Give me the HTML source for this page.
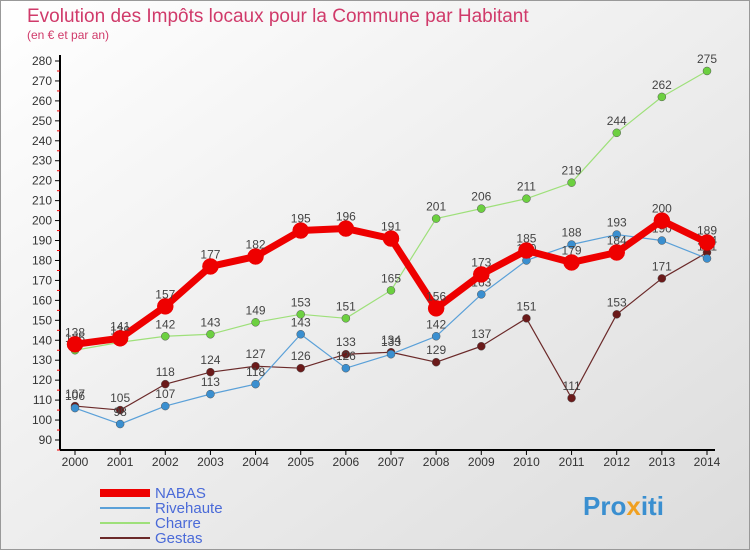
<!DOCTYPE html>
<html><head><meta charset="utf-8"><style>
body{margin:0;width:750px;height:550px;overflow:hidden;font-family:"Liberation Sans",sans-serif}
</style></head><body>
<svg id="c" width="750" height="550" xmlns="http://www.w3.org/2000/svg">
<defs><linearGradient id="bg" x1="0" y1="0" x2="1" y2="1"><stop offset="0" stop-color="#ffffff"/><stop offset="1" stop-color="#dcdcdc"/></linearGradient></defs>
<rect x="0.5" y="0.5" width="749" height="549" fill="url(#bg)" stroke="#999"/>
<text x="27" y="22" font-size="19" fill="#d03a6a">Evolution des Impôts locaux pour la Commune par Habitant</text>
<text x="27" y="39" font-size="12" fill="#d03a6a">(en € et par an)</text>
<g id="axes"></g><g id="series"></g><g id="legend"></g>
<text x="583" y="515" font-size="26" font-weight="bold" fill="#3a8fd0">Pro<tspan fill="#f0a020">x</tspan>iti</text>
</svg>
<script>
const years=[2000,2001,2002,2003,2004,2005,2006,2007,2008,2009,2010,2011,2012,2013,2014];
const nabas=[138,141,157,177,182,195,196,191,156,173,185,179,184,200,189];
const rivehaute=[106,98,107,113,118,143,126,133,142,163,180,188,193,190,181];
const charre=[135,139,142,143,149,153,151,165,201,206,211,219,244,262,275];
const gestas=[107,105,118,124,127,126,133,134,129,137,151,111,153,171,184];
const yTicks=[90,100,110,120,130,140,150,160,170,180,190,200,210,220,230,240,250,260,270,280];
const NS='http://www.w3.org/2000/svg';
const X=i=>75+i*(707-75)/(years.length-1);
const Y=v=>440-(v-90)*(440-61)/190;
function mk(t,a,p){const e=document.createElementNS(NS,t);for(const k in a)e.setAttribute(k,a[k]);p.appendChild(e);return e;}
const ax=document.getElementById('axes');
let l=mk('line',{x1:60,y1:55,x2:60,y2:450,stroke:'#000','stroke-width':2},ax);


l=mk('line',{x1:60,y1:450,x2:715,y2:450,stroke:'#000','stroke-width':2},ax);


yTicks.forEach(v=>{
 const y=Y(v);
 mk('line',{x1:55,y1:y,x2:60,y2:y,stroke:'#000'},ax);
 mk('line',{x1:57,y1:y+10,x2:60,y2:y+10,stroke:'#e00'},ax);
 const t=mk('text',{x:52,y:y+4,'font-size':12,'text-anchor':'end',fill:'#333'},ax);t.textContent=v;
 
 
});
years.forEach((yr,i)=>{
 const x=X(i);
 mk('line',{x1:x,y1:450,x2:x,y2:455,stroke:'#000'},ax);
 const t=mk('text',{x:x,y:466,'font-size':12,'text-anchor':'middle',fill:'#333'},ax);t.textContent=yr;
 
 
});
const sg=document.getElementById('series');
function draw(data,color,w,r,name,fill){
 const g=mk('g',{},sg);
 
 
 const p=mk('polyline',{points:data.map((v,i)=>X(i)+','+Y(v)).join(' '),fill:'none',stroke:color,'stroke-width':w,'stroke-linejoin':'round'},g);
 
 
 data.forEach((v,i)=>{
  const c=mk('circle',{cx:X(i),cy:Y(v),r:r,fill:fill,stroke:w>3?fill:'#555','stroke-width':0.5},g);
  
  
  const t=mk('text',{x:X(i),y:Y(v)-8,'font-size':12,'text-anchor':'middle',fill:'#444'},g);t.textContent=v;
  
  
 });
}
draw(gestas,'#6b2a2a',1.2,4,'gestas','#6b1a1a');
draw(rivehaute,'#5aa0d8',1.2,4,'rivehaute','#3a8fd0');
draw(charre,'#9ee07a',1.2,4,'charre','#6cd040');
draw(nabas,'#ee0000',7,8,'nabas','#ee0000');
const lg=document.getElementById('legend');
[['NABAS','#ee0000',8],['Rivehaute','#5aa0d8',2],['Charre','#9ee07a',2],['Gestas','#6b2a2a',2]].forEach((d,i)=>{
 const y=493+i*15;
 const g=mk('g',{},lg);
 
 
 mk('line',{x1:100,y1:y,x2:150,y2:y,stroke:d[1],'stroke-width':d[2]},g);
 const t=mk('text',{x:155,y:y+5,'font-size':15,fill:'#4a6ad8'},g);t.textContent=d[0];
});
</script>
</body></html>
